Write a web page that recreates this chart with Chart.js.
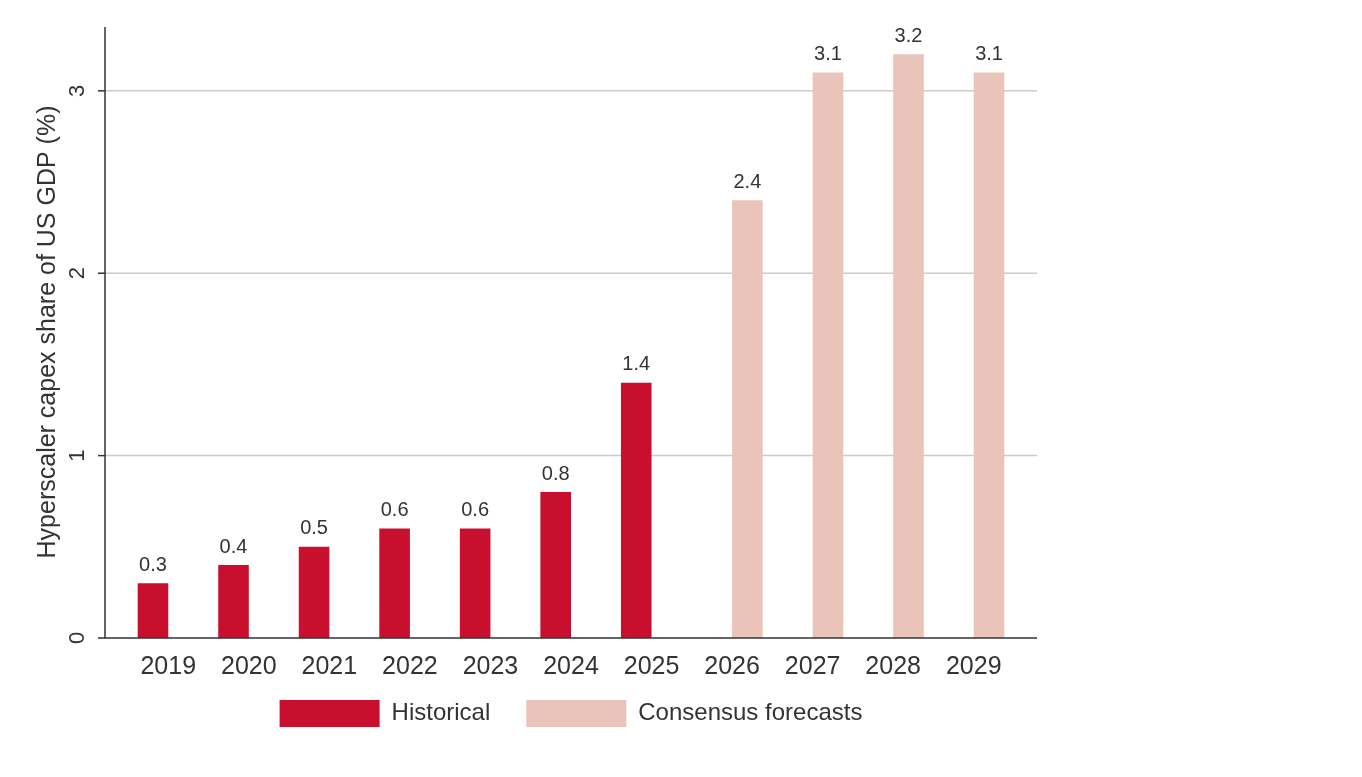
<!DOCTYPE html>
<html><head><meta charset="utf-8">
<script src="https://cdn.jsdelivr.net/npm/chart.js@4"></script>
<style>html,body{margin:0;padding:0;background:#fff}#w{width:1362px;height:777px}</style>
</head><body><div id="w"><canvas id="c"></canvas></div>
<script>
const years = ['2019','2020','2021','2022','2023','2024','2025','2026','2027','2028','2029'];
const historical = [0.3,0.4,0.5,0.6,0.6,0.8,1.4,null,null,null,null];
const forecasts = [null,null,null,null,null,null,null,2.4,3.1,3.2,3.1];
const yTicks = [0,1,2,3];
const FONT = '"Liberation Sans", Arial, sans-serif';

const custom = {
  id:'custom',
  afterLayout(chart){
    // keep chart area fixed
  },
  beforeDatasetsDraw(chart){
    const ctx=chart.ctx, y=chart.scales.y;
    const L=105, R=1037;
    ctx.save();
    ctx.strokeStyle='#cccccc'; ctx.lineWidth=1.5;
    yTicks.forEach(t=>{ if(t===0) return; const py=y.getPixelForValue(t);
      ctx.beginPath(); ctx.moveTo(L,py); ctx.lineTo(R,py); ctx.stroke(); });
    ctx.restore();
  },
  afterDatasetsDraw(chart){
    const ctx=chart.ctx, y=chart.scales.y, a=chart.chartArea;
    const L=105, R=1037;
    ctx.save();
    ctx.strokeStyle='#333'; ctx.lineWidth=1.5;
    ctx.beginPath(); ctx.moveTo(L,a.top); ctx.lineTo(L,y.getPixelForValue(0)); ctx.lineTo(R,y.getPixelForValue(0)); ctx.stroke();
    ctx.fillStyle='#333'; ctx.font='22px '+FONT; ctx.textAlign='center'; ctx.textBaseline='middle';
    yTicks.forEach(t=>{ const py=y.getPixelForValue(t);
      ctx.beginPath(); ctx.moveTo(L,py); ctx.lineTo(L-7,py); ctx.stroke();
      ctx.save(); ctx.translate(78,py); ctx.rotate(-Math.PI/2); ctx.fillText(String(t),0,0); ctx.restore(); });
    ctx.save(); ctx.translate(48,332); ctx.rotate(-Math.PI/2);
    ctx.font='25px '+FONT; ctx.fillText('Hyperscaler capex share of US GDP (%)',0,0); ctx.restore();
    ctx.font='20px '+FONT; ctx.textBaseline='bottom';
    chart.data.datasets.forEach((ds,i)=>{
      chart.getDatasetMeta(i).data.forEach((el,j)=>{
        const v=ds.data[j]; if(v==null) return;
        ctx.fillText(v.toFixed(1), el.x, el.y-8);
      });
    });
    ctx.restore();
  }
};

new Chart(document.getElementById('c'),{
  type:'bar',
  data:{labels:years,datasets:[
    {label:'Historical',data:historical,backgroundColor:'#C8102E',barPercentage:1,categoryPercentage:0.76},
    {label:'Consensus forecasts',data:forecasts,backgroundColor:'#EAC4B8',barPercentage:1,categoryPercentage:0.76}
  ]},
  options:{
    responsive:true,maintainAspectRatio:false,animation:false,
    layout:{padding:{left:128,right:348,top:27,bottom:40}},
    scales:{
      x:{grid:{display:false},border:{display:false},ticks:{color:'#333',font:{family:FONT,size:25},padding:6}},
      y:{display:false,min:0,max:3.35}
    },
    plugins:{
      legend:{position:'bottom',labels:{color:'#333',font:{family:FONT,size:24},boxWidth:100,boxHeight:27,padding:12,
        generateLabels(chart){
          const items=Chart.defaults.plugins.legend.labels.generateLabels(chart);
          items.forEach((it,i)=>{ if(i===0) it.text=it.text+'\u2003'; it.lineWidth=0; });
          return items;
        }},
        onClick:null},
      tooltip:{enabled:false}
    }
  },
  plugins:[custom]
});
</script></body></html>
